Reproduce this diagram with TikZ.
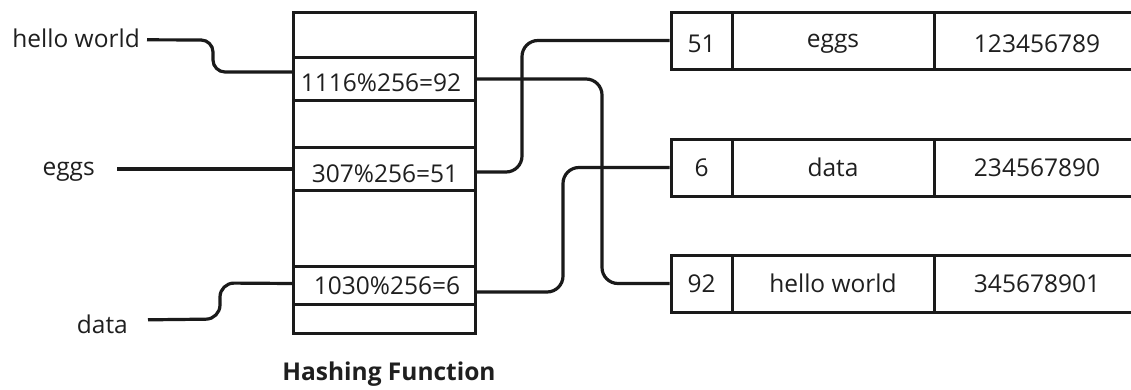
\documentclass[tikz,border=0pt]{standalone}
\usepackage{fontspec}
\setmainfont{Open Sans}
\definecolor{ink}{HTML}{1A1A1A}
\definecolor{txt}{HTML}{1F1F1F}
\begin{document}
\begin{tikzpicture}[x=1pt,y=-1pt,
  lbl/.style={font=\fontsize{24.5}{28}\selectfont, text=txt, inner sep=0pt},
  ttl/.style={font=\fontsize{24.5}{28}\selectfont\bfseries, text=txt, inner sep=0pt},
  box/.style={draw=ink, line width=3pt, inner sep=0pt},
  slotbox/.style={inner sep=0pt, minimum width=182pt},
  cell/.style={draw=ink, line width=3pt, inner sep=0pt, minimum height=57pt,
               font=\fontsize{24.5}{28}\selectfont, text=txt},
  sep/.style={draw=ink, line width=3pt},
  wire/.style={draw=ink, line width=3.2pt, rounded corners=14pt}]
\clip (0,0) rectangle (1131,389);
\fill[white] (0,0) rectangle (1131,389);

% hashing function column
\node[box, minimum width=182pt, minimum height=321pt] (hash) at (384,172.5) {};
\node[slotbox, minimum height=42pt] (s92) at (384,79) {};
\node[slotbox, minimum height=42pt] (s51) at (384,169) {};
\node[slotbox, minimum height=37pt] (s6)  at (384,285.5) {};
\foreach \s in {s92,s51,s6}{
  \draw[sep] (\s.north west) -- (\s.north east);
  \draw[sep] (\s.south west) -- (\s.south east);
}
\node[lbl] (t92) at (381,83) {1116\%256=92};
\node[lbl] (t51) at (385,174) {307\%256=51};
\node[lbl] (t6)  at (387,286) {1030\%256=6};
\node[ttl, anchor=base] (title) at (389,380) {Hashing Function};

% input keys
\node[lbl, anchor=base east] (hw) at (140,47) {hello world};
\node[lbl, anchor=base east] (eg) at (95,175) {eggs};
\node[lbl, anchor=base east] (da) at (128,333) {data};

% records
\node[cell, minimum width=61pt]  (k51) at (701.5,40.5) {};
\node[cell, minimum width=202pt] (v51) at (833,40.5) {};
\node[cell, minimum width=206pt] (n51) at (1037,40.5) {};
\node[lbl] at ([yshift=-3pt]k51.center) {51};
\node[lbl] at ([yshift=-3pt]v51.center) {eggs};
\node[lbl] at ([yshift=-3pt]n51.center) {123456789};

\node[cell, minimum width=61pt]  (k6) at (701.5,167.5) {6};
\node[cell, minimum width=202pt] (v6) at (833,167.5) {data};
\node[cell, minimum width=206pt] (n6) at (1037,167.5) {234567890};

\node[cell, minimum width=61pt]  (k92) at (701.5,283.5) {92};
\node[cell, minimum width=202pt] (v92) at (833,283.5) {hello world};
\node[cell, minimum width=206pt] (n92) at (1037,283.5) {345678901};

% input connectors
\draw[wire, rounded corners=12pt] ([xshift=7pt,yshift=-2pt]hw.east) -- (213,40) -- (213,72) -- ([yshift=7pt]s92.west);
\draw[wire] ([xshift=22pt]eg.east |- s51.west) -- (s51.west);
\draw[wire] ([xshift=20pt,yshift=4pt]da.east) -- (220,319) -- (220,283) -- ([yshift=2pt]s6.west);

% output connectors
\draw[wire, rounded corners=16pt] ([yshift=-3pt]s51.east) -- (522,172) -- (522,40.5) -- (k51.west);
\draw[wire, rounded corners=16pt] (s92.east) -- (602,79) -- (602,283.5) -- (k92.west);
\draw[wire, rounded corners=16pt] ([yshift=-6.5pt]s6.east) -- (563,292) -- (563,167.5) -- (k6.west);
\end{tikzpicture}
\end{document}
